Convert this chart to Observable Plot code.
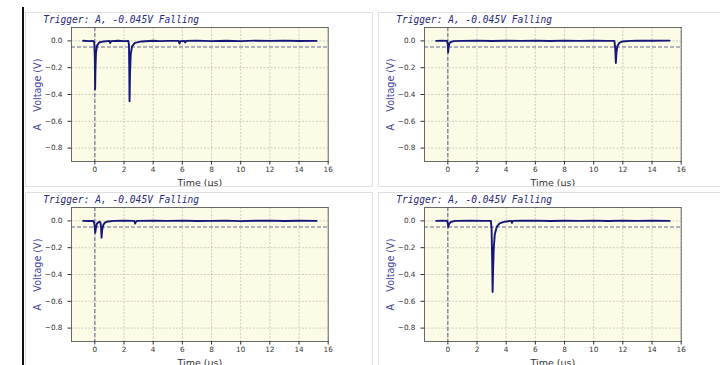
<!DOCTYPE html>
<html><head><meta charset="utf-8">
<script src="https://cdn.jsdelivr.net/npm/d3@7"></script>
<script src="https://cdn.jsdelivr.net/npm/@observablehq/plot@0.6"></script>
<style>
body{margin:0;background:#fff;}
#wrap{position:relative;width:720px;height:365px;overflow:hidden;background:#fff;}
.box{position:absolute;border:1px solid #e0e0e0;box-sizing:border-box;pointer-events:none;}
.holder{position:absolute;overflow:hidden;}
#bar{position:absolute;left:22px;top:7px;width:2px;height:400px;background:#111;}
</style></head><body><div id="wrap"><div id="bar"></div></div>
<script>
// ---- data ----
const titleText = "Trigger: A, -0.045V Falling";
const yLabelText = "A\u00a0\u00a0\u00a0\u00a0Voltage (V)";
const xLabelText = "Time (\u03bcs)";
const triggerLevel = -0.045;
const xTicks = [0, 2, 4, 6, 8, 10, 12, 14, 16];
const yTicks = [0, -0.2, -0.4, -0.6, -0.8];

// panel 1 (top-left)
const t1 = [-0.8, -0.4, -0.1, -0.04, 0.0, 0.02, 0.04, 0.08, 0.15, 0.3, 0.6, 1.0, 1.05, 1.12, 1.6, 2.0, 2.3, 2.34, 2.36, 2.38, 2.41, 2.46, 2.55, 2.75, 3.2, 4.0, 4.5, 5.0, 5.75, 5.8, 5.86, 6.15, 6.2, 6.26, 7, 8, 9, 10, 11, 12, 13, 14, 15.2];
const v1 = [0.001, -0.002, 0, -0.012, -0.13, -0.36, -0.22, -0.09, -0.035, -0.012, -0.004, 0, -0.016, -0.002, 0.001, -0.002, 0, -0.03, -0.2, -0.45, -0.25, -0.1, -0.04, -0.015, -0.004, 0.001, -0.002, 0, 0, -0.02, -0.002, 0, -0.012, 0, 0.002, -0.002, 0.001, -0.002, 0.002, 0, 0.002, -0.001, 0];

// panel 2 (top-right)
const t2 = [-0.8, -0.4, -0.05, 0.0, 0.02, 0.05, 0.1, 0.2, 0.4, 1, 2, 3, 4, 5, 6, 7, 8, 9, 10, 11, 11.42, 11.48, 11.52, 11.56, 11.62, 11.75, 11.95, 12.5, 13, 14, 15.2];
const v2 = [0, 0.001, 0, -0.03, -0.085, -0.05, -0.02, -0.008, -0.002, 0, 0.002, -0.001, 0.001, 0, 0.002, -0.001, 0.002, 0, 0.002, 0, 0, -0.06, -0.165, -0.09, -0.04, -0.015, -0.005, 0, 0.002, 0.001, 0.002];

// panel 3 (bottom-left)
const t3 = [-0.8, -0.4, -0.1, -0.03, 0.0, 0.03, 0.08, 0.15, 0.3, 0.38, 0.43, 0.46, 0.5, 0.58, 0.7, 0.9, 1.3, 2.0, 2.7, 2.76, 2.82, 2.9, 4, 5, 6, 7, 8, 9, 10, 11, 12, 13, 14, 15.2];
const v3 = [0, -0.001, 0, -0.02, -0.06, -0.088, -0.05, -0.02, -0.006, -0.01, -0.05, -0.125, -0.07, -0.03, -0.012, -0.004, 0, 0.001, 0, -0.02, -0.006, 0, 0.001, 0, 0.002, -0.001, 0, 0.002, -0.002, 0.001, 0.002, -0.001, 0.001, 0];

// panel 4 (bottom-right)
const t4 = [-0.8, -0.4, -0.05, 0.0, 0.03, 0.08, 0.2, 0.5, 1.5, 2.5, 2.95, 3.0, 3.04, 3.07, 3.1, 3.15, 3.22, 3.35, 3.55, 3.9, 4.35, 4.4, 4.46, 5, 6, 7, 8, 9, 10, 11, 12, 13, 14, 15.2];
const v4 = [0, 0.001, 0, -0.02, -0.045, -0.025, -0.008, 0, 0.002, 0, 0, -0.06, -0.3, -0.53, -0.38, -0.2, -0.1, -0.045, -0.018, -0.006, 0, -0.015, 0, 0.001, 0.002, -0.001, 0.001, 0, 0.002, -0.001, 0.002, 0, 0.002, 0];

const panels = [
  {left: 25, top: 12, t: t1, v: v1},
  {left: 378, top: 12, t: t2, v: v2},
  {left: 25, top: 192, t: t3, v: v3},
  {left: 378, top: 192, t: t4, v: v4}
];

const wrap = document.getElementById("wrap");
const W = 347, H = 174;
const yFmt = d => d.toFixed(1).replace("-", "\u2212");

for (const p of panels) {
  const data = p.t.map((t, i) => ({t, v: p.v[i]}));
  const chart = Plot.plot({
    width: W, height: H,
    marginLeft: 46, marginRight: 44.3, marginTop: 15, marginBottom: 25,
    x: {domain: [-1.6, 16]},
    y: {domain: [-0.9, 0.1]},
    style: {fontFamily: "DejaVu Sans", fontSize: "7px", color: "#333", background: "transparent"},
    marks: [
      Plot.frame({fill: "#fbfbe6"}),
      Plot.gridX(xTicks, {stroke: "#a8a8a8", strokeOpacity: 0.8, strokeWidth: 0.7, strokeDasharray: "2,1.5"}),
      Plot.gridY(yTicks, {stroke: "#a8a8a8", strokeOpacity: 0.8, strokeWidth: 0.7, strokeDasharray: "2,1.5"}),
      Plot.ruleY([triggerLevel], {stroke: "#6a6a98", strokeWidth: 1.1, strokeDasharray: "4,2"}),
      Plot.ruleX([0], {stroke: "#6a6a98", strokeWidth: 1.1, strokeDasharray: "4,2"}),
      Plot.line(data, {x: "t", y: "v", stroke: "#16167a", strokeWidth: 1.9, curve: "linear"}),
      Plot.frame({stroke: "#5a5a5a", strokeWidth: 0.9}),
      Plot.axisX(xTicks, {tickSize: 3.5, tickPadding: 1.5, fontSize: 7.3, label: null}),
      Plot.axisY(yTicks, {tickSize: 3.5, tickPadding: 5.5, fontSize: 7.3, tickFormat: yFmt, label: null}),
      Plot.text([xLabelText], {frameAnchor: "bottom", dy: 24, lineAnchor: "bottom", fontSize: 9.5, fill: "#333"}),
      Plot.text([yLabelText], {frameAnchor: "left", rotate: -90, dx: -34, textAnchor: "middle", lineAnchor: "middle", fontSize: 9.6, fill: "#4444a0"}),
      Plot.text([titleText], {frameAnchor: "top-left", dx: -28.3, dy: -5, textAnchor: "start", lineAnchor: "bottom", fontSize: 9.6, fontFamily: "DejaVu Sans Mono", fontStyle: "italic", fill: "#2a2a7c"})
    ]
  });
  const holder = document.createElement("div");
  holder.className = "holder";
  holder.style.left = p.left + "px";
  holder.style.top = p.top + "px";
  holder.style.width = W + "px";
  holder.style.height = H + "px";
  holder.appendChild(chart);
  wrap.appendChild(holder);
}
for (const p of panels) {
  const b = document.createElement("div");
  b.className = "box";
  b.style.left = p.left + "px";
  b.style.top = p.top + "px";
  b.style.width = (p.left === 25 ? 348 : 400) + "px";
  b.style.height = (p.top === 12 ? 175 : 220) + "px";
  wrap.appendChild(b);
}
</script></body></html>
